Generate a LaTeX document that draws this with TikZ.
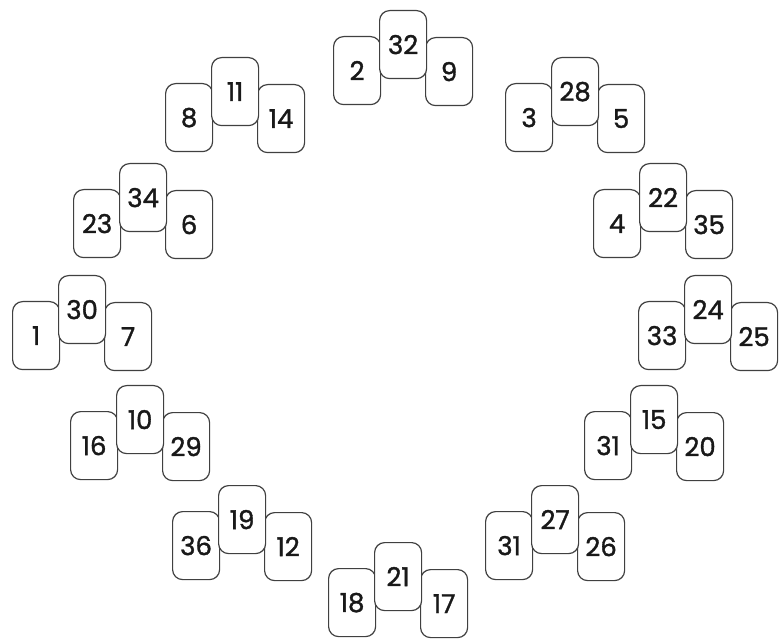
\documentclass[tikz,border=0pt]{standalone}
\usepackage{fontspec}
\setmainfont{Poppins}[FakeBold=1.3]
\begin{document}
\begin{tikzpicture}[x=1pt,y=-1pt,
  card/.style={draw=black!75,line width=1.2pt,fill=white,rounded corners=10pt,
    minimum width=47pt,minimum height=68pt,inner sep=0pt,anchor=north west,
    font=\fontsize{26}{26}\selectfont,text=black!90}]
\useasboundingbox (0,0) rectangle (780,639);
% group: #1 name, #2 left x, #3 middle top, #4 left, #5 middle, #6 right
\newcommand{\cardgroup}[6]{%
  \node[card] (#1l) at (#2,#3+26) {#4};
  \node[card] (#1r) at (#2+92,#3+27) {#6};
  \node[card] (#1m) at (#2+46,#3) {#5};
}
\cardgroup{ga}{333}{10}{2}{32}{9}
\cardgroup{gb}{165}{57}{8}{11}{14}
\cardgroup{gc}{505}{57}{3}{28}{5}
\cardgroup{gd}{73}{163}{23}{34}{6}
\cardgroup{ge}{593}{163}{4}{22}{35}
\cardgroup{gf}{12}{275}{1}{30}{7}
\cardgroup{gg}{638}{275}{33}{24}{25}
\cardgroup{gh}{70}{385}{16}{10}{29}
\cardgroup{gi}{584}{385}{31}{15}{20}
\cardgroup{gj}{172}{485}{36}{19}{12}
\cardgroup{gk}{485}{485}{31}{27}{26}
\cardgroup{gl}{328}{542}{18}{21}{17}
\end{tikzpicture}
\end{document}
